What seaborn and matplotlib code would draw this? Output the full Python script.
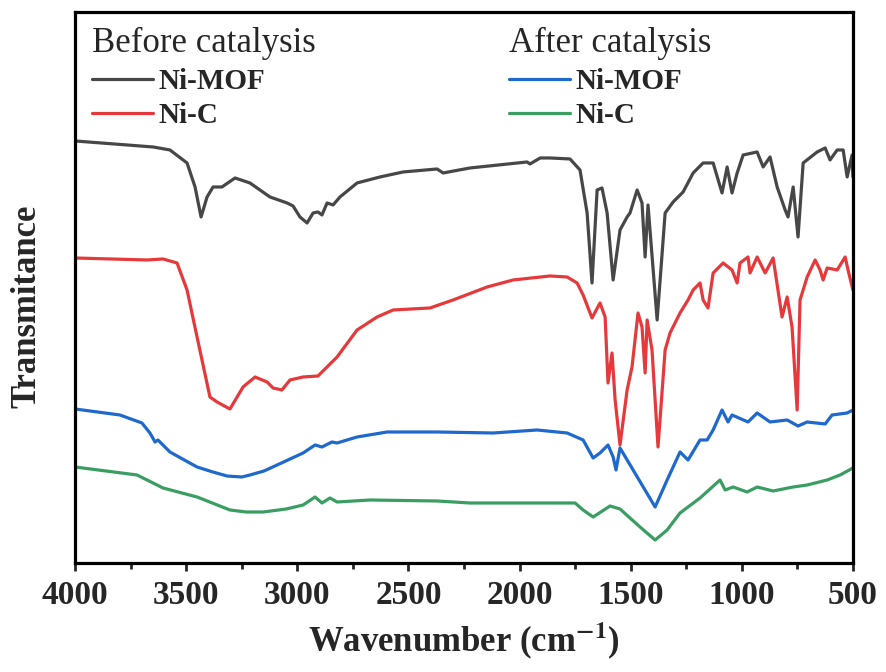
import matplotlib
matplotlib.use("Agg")
import matplotlib.pyplot as plt
from matplotlib.ticker import MultipleLocator
import seaborn as sns
import pandas as pd

# FTIR spectra (wavenumber in cm-1, transmittance in arbitrary offset units)
mof_before_wn = [4000, 3649, 3573, 3496, 3460, 3433, 3406, 3379, 3339, 3280, 3213, 3123, 3046,
                 3019, 2988, 2956, 2929, 2907, 2889, 2866, 2839, 2808, 2731, 2628, 2524, 2371,
                 2344, 2223, 1966, 1953, 1907, 1863, 1773, 1728, 1696, 1674, 1651, 1629, 1606,
                 1579, 1548, 1516, 1503, 1471, 1449, 1435, 1422, 1381, 1345, 1309, 1264, 1219,
                 1174, 1129, 1089, 1066, 1044, 1021, 994, 931, 904, 873, 841, 805, 792, 769,
                 747, 724, 661, 625, 603, 571, 544, 526, 504, 500]
mof_before_t = [459, 453, 450, 437, 413, 383, 403, 413, 413, 422, 417, 403, 397,
                394, 383, 377, 387, 388, 385, 397, 395, 403, 417, 423, 428, 431,
                427, 432, 438, 436, 442, 442, 441, 430, 387, 317, 410, 412, 387,
                320, 370, 383, 387, 410, 397, 343, 395, 280, 387, 398, 408, 427,
                437, 437, 407, 433, 407, 427, 445, 448, 433, 443, 413, 390, 383, 413,
                363, 437, 448, 452, 440, 450, 450, 423, 445, 423]

c_before_wn = [4000, 3676, 3604, 3541, 3496, 3451, 3393, 3361, 3303, 3244, 3190, 3136, 3109,
               3069, 3033, 2974, 2907, 2821, 2731, 2641, 2569, 2403, 2299, 2146, 2029, 1863,
               1786, 1741, 1714, 1674, 1638, 1615, 1602, 1584, 1570, 1548, 1516, 1494, 1467,
               1449, 1435, 1426, 1404, 1377, 1345, 1323, 1278, 1242, 1219, 1188, 1174, 1152,
               1129, 1084, 1044, 1021, 1008, 972, 963, 931, 895, 859, 819, 796, 774, 751,
               738, 706, 670, 648, 634, 616, 571, 535, 522, 500]
c_before_t = [342, 340, 341, 337, 310, 263, 203, 198, 191, 213, 223, 218, 212,
              210, 220, 223, 224, 243, 270, 283, 290, 292, 300, 313, 320, 324,
              323, 317, 305, 282, 297, 283, 217, 247, 200, 155, 210, 233, 287,
              273, 227, 280, 250, 153, 250, 267, 287, 300, 310, 317, 300, 292,
              327, 337, 330, 317, 337, 343, 327, 343, 327, 342, 283, 303, 273, 190,
              300, 323, 340, 330, 320, 332, 330, 343, 330, 310]

mof_after_wn = [4000, 3798, 3699, 3663, 3640, 3627, 3573, 3500, 3451, 3380, 3316, 3250, 3213,
                3150, 3091, 2974, 2920, 2889, 2844, 2821, 2731, 2596, 2371, 2119, 1921, 1786,
                1714, 1669, 1638, 1602, 1579, 1566, 1548, 1489, 1390, 1336, 1278, 1242, 1188,
                1156, 1129, 1089, 1062, 1044, 972, 931, 873, 796, 747, 706, 625, 594, 526, 500]
mof_after_t = [191, 185, 177, 167, 158, 160, 148, 139, 133, 128, 124, 123, 125,
               129, 135, 147, 155, 153, 158, 157, 163, 168, 168, 167, 170, 167,
               160, 142, 147, 155, 143, 130, 152, 130, 93, 120, 148, 140, 160,
               160, 170, 190, 178, 185, 178, 187, 178, 180, 174, 178, 176, 185, 187, 190]

c_after_wn = [4000, 3721, 3604, 3451, 3303, 3230, 3154, 3050, 2974, 2920, 2889, 2853, 2821,
              2673, 2371, 2223, 1908, 1750, 1714, 1669, 1593, 1548, 1458, 1390, 1336, 1278,
              1188, 1098, 1075, 1039, 976, 931, 859, 769, 706, 616, 558, 500]
c_after_t = [133, 125, 112, 103, 90, 88, 88, 91, 95, 103, 97, 102, 98,
             100, 99, 97, 97, 97, 90, 83, 94, 91, 73, 60, 70, 87,
             102, 120, 110, 113, 108, 113, 109, 113, 115, 120, 125, 132]

series = [
    ("Ni-MOF before", mof_before_wn, mof_before_t),
    ("Ni-C before", c_before_wn, c_before_t),
    ("Ni-MOF after", mof_after_wn, mof_after_t),
    ("Ni-C after", c_after_wn, c_after_t),
]
colors = {"Ni-MOF before": "#474747", "Ni-C before": "#e5393b",
          "Ni-MOF after": "#1f68cc", "Ni-C after": "#3a9d62"}

df = pd.concat([pd.DataFrame({"wn": w, "t": t, "sample": name}) for name, w, t in series])

sns.set_style("ticks")
plt.rcParams["font.family"] = ["Liberation Serif", "DejaVu Serif"]
plt.rcParams["mathtext.fontset"] = "stix"

fig = plt.figure(figsize=(8.87, 6.72), dpi=100)
ax = fig.add_axes([0.0846, 0.1622, 0.877, 0.82])

sns.lineplot(data=df, x="wn", y="t", hue="sample", palette=colors, estimator=None,
             linewidth=2.3, legend=False, ax=ax)

ax.set_xlim(4000, 500)
ax.set_ylim(37, 588)
ax.xaxis.set_major_locator(MultipleLocator(500))
ax.xaxis.set_minor_locator(MultipleLocator(250))
ax.set_yticks([])
ax.tick_params(axis="x", which="major", direction="out", length=6, width=2, pad=6)
ax.tick_params(axis="x", which="minor", direction="out", length=4, width=2)
for lab in ax.get_xticklabels():
    lab.set_fontsize(24)
    lab.set_fontweight("bold")
for sp in ax.spines.values():
    sp.set_visible(True)
    sp.set_linewidth(2.3)
    sp.set_color("black")

ax.set_xlabel(r"Wavenumber (cm$^{\mathbf{-1}}$)", fontsize=25, fontweight="bold", labelpad=7)
ax.set_ylabel("Transmitance", fontsize=25, fontweight="bold")
ax.yaxis.set_label_coords(-0.041, 0.465)

lines = ax.get_lines()
leg_kw = dict(loc="upper left", frameon=False, prop={"weight": "bold", "size": 21},
              title_fontsize=25, handlelength=2.1, handletextpad=0.2, labelspacing=0.25,
              alignment="left", borderaxespad=0.0, borderpad=0.3)
leg1 = ax.legend(lines[0:2], ["Ni-MOF", "Ni-C"], title="Before catalysis",
                 bbox_to_anchor=(0.01, 0.988), **leg_kw)
ax.add_artist(leg1)
ax.legend(lines[2:4], ["Ni-MOF", "Ni-C"], title="After catalysis",
          bbox_to_anchor=(0.546, 0.988), **leg_kw)

fig.savefig("out.png", dpi=100)
